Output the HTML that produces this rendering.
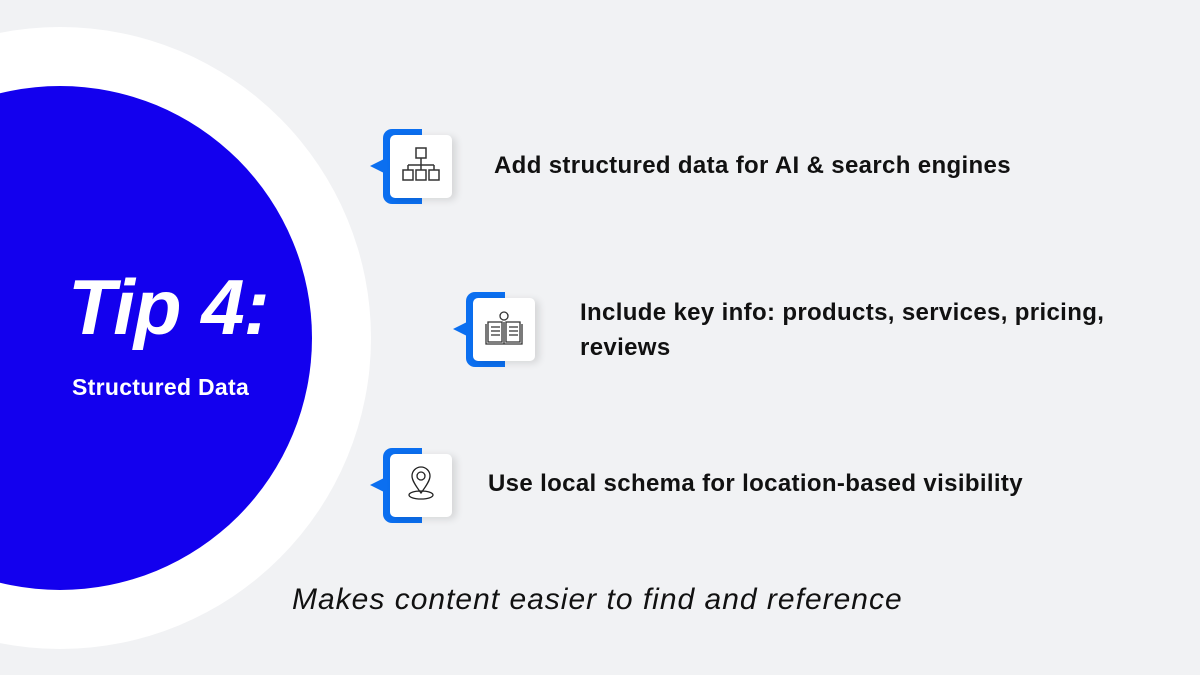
<!DOCTYPE html>
<html><head><style>
body{margin:0;width:1200px;height:675px;background:#f1f2f4;position:relative;overflow:hidden;font-family:"Liberation Sans",sans-serif;}
.c1{position:absolute;left:-251px;top:27px;width:622px;height:622px;border-radius:50%;background:#fff;}
.c2{position:absolute;left:-192px;top:86px;width:504px;height:504px;border-radius:50%;background:#1300ee;}
.ic{position:absolute;width:84px;height:76px;}
.br{position:absolute;left:13px;top:0;width:39px;height:75px;background:#0b6ff0;border-radius:9px 0 0 9px;}
.tr{position:absolute;left:0;top:30px;width:0;height:0;border-top:7px solid transparent;border-bottom:7px solid transparent;border-right:14px solid #0b6ff0;}
.bx{position:absolute;left:20px;top:6px;width:62px;height:63px;background:#fff;border-radius:5px;box-shadow:4px 2px 8px rgba(0,0,0,0.12);}
.bx svg{position:absolute;left:11px;top:11px;}
.t{position:absolute;font-weight:bold;font-size:24px;letter-spacing:0.35px;color:#111;line-height:35px;}
</style></head><body>
<div class="c1"></div><div class="c2"></div>
<div style="position:absolute;left:68px;top:262px;color:#fff;font-size:78px;font-weight:bold;font-style:italic;letter-spacing:-1px;">Tip 4:</div>
<div style="position:absolute;left:72px;top:374px;color:#fff;font-size:23px;font-weight:bold;letter-spacing:0.3px;">Structured Data</div>

<div class="ic" style="left:370px;top:129px"><div class="br"></div><div class="tr"></div><div class="bx">
<svg width="40" height="40" viewBox="0 0 40 40" fill="none" stroke="#333" stroke-width="1.5"><rect x="15" y="2" width="10" height="10"/><path d="M20 12v7M7 19h26M7 19v5M20 19v5M33 19v5"/><rect x="2" y="24" width="10" height="10"/><rect x="15" y="24" width="10" height="10"/><rect x="28" y="24" width="10" height="10"/></svg></div></div>

<div class="ic" style="left:453px;top:292px"><div class="br"></div><div class="tr"></div><div class="bx">
<svg width="40" height="40" viewBox="0 0 40 40" fill="none" stroke="#333" stroke-width="1.3"><circle cx="20" cy="7" r="4"/><path d="M4 13h14v20H4zM22 13h14v20H22zM2 15v20h36V15M20 13v22M7 18h9M7 22h9M7 26h9M25 18h9M25 22h9M25 26h9"/></svg></div></div>

<div class="ic" style="left:370px;top:448px"><div class="br"></div><div class="tr"></div><div class="bx">
<svg width="40" height="40" viewBox="0 0 40 40" fill="none" stroke="#222" stroke-width="1.3"><path d="M20 28C14 20 11 15 11 11a9 9 0 0 1 18 0c0 4-3 9-9 17z"/><circle cx="20" cy="11" r="4"/><ellipse cx="20" cy="30" rx="12" ry="4"/></svg></div></div>

<div class="t" style="left:494px;top:148px">Add structured data for AI &amp; search engines</div>
<div class="t" style="left:580px;top:295px">Include key info: products, services, pricing,<br>reviews</div>
<div class="t" style="left:488px;top:466px">Use local schema for location-based visibility</div>
<div style="position:absolute;left:292px;top:583px;font-size:30px;letter-spacing:1px;font-style:italic;color:#111;">Makes content easier to find and reference</div>
</body></html>
